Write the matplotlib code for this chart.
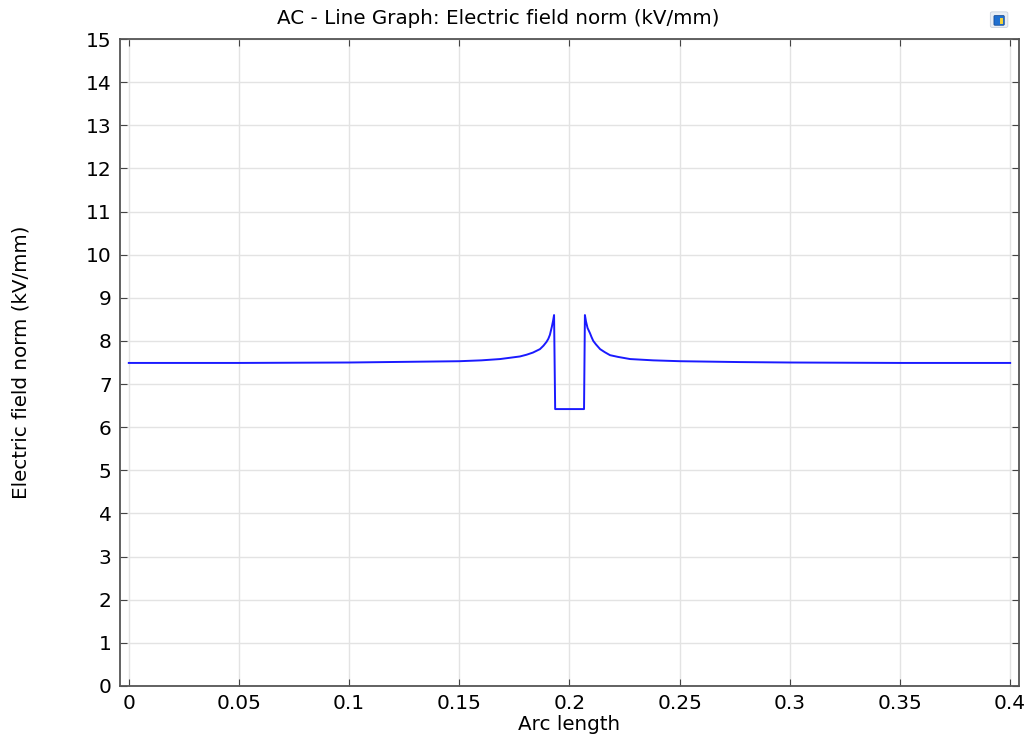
import matplotlib.pyplot as plt
from matplotlib.patches import FancyBboxPatch

# Electric field norm along the arc (kV/mm)
arc_length = [0.000, 0.050, 0.100, 0.150, 0.1600, 0.1685, 0.1730, 0.1775,
              0.1805, 0.1834, 0.1850, 0.1866, 0.1882, 0.1896, 0.1904, 0.1911,
              0.1920, 0.1926, 0.1930, 0.1935, 0.2066, 0.2070, 0.2075, 0.2082,
              0.2093, 0.2100, 0.2108, 0.2120, 0.2139, 0.2160, 0.2184, 0.2220,
              0.2275, 0.2380, 0.2502, 0.2774, 0.300, 0.350, 0.400]
field_norm = [7.49, 7.49, 7.50, 7.53, 7.55, 7.58, 7.61, 7.64,
              7.68, 7.73, 7.77, 7.81, 7.89, 7.98, 8.05, 8.14,
              8.33, 8.48, 8.60, 6.42, 6.42, 8.60, 8.45, 8.30,
              8.18, 8.09, 8.00, 7.92, 7.81, 7.74, 7.67, 7.63,
              7.58, 7.55, 7.53, 7.51, 7.50, 7.49, 7.49]

x_ticks = [0, 0.05, 0.1, 0.15, 0.2, 0.25, 0.3, 0.35, 0.4]
x_tick_labels = ["0", "0.05", "0.1", "0.15", "0.2", "0.25", "0.3", "0.35", "0.4"]
y_ticks = list(range(0, 16))

fig = plt.figure(figsize=(10.3, 7.42), dpi=100)
ax = fig.add_axes([0.1165, 0.0755, 0.8728, 0.8719])

ax.plot(arc_length, field_norm, color="#1a1aff", linewidth=1.4)

ax.set_xlim(-0.004, 0.404)
ax.set_ylim(0, 15)
ax.set_xticks(x_ticks)
ax.set_xticklabels(x_tick_labels)
ax.set_yticks(y_ticks)

ax.grid(True, color="#e3e3e3", linewidth=1.0)
ax.set_axisbelow(True)
ax.tick_params(direction="in", top=True, right=True, length=5,
               labelsize=14.5, color="#444444", pad=6)
for spine in ax.spines.values():
    spine.set_color("#555555")
    spine.set_linewidth(1.3)

ax.set_xlabel("Arc length", fontsize=14.3, labelpad=1)
ax.set_ylabel("Electric field norm (kV/mm)", fontsize=14.3)
ax.yaxis.set_label_coords(-0.100, 0.5)
fig.text(0.4835, 0.9757, "AC - Line Graph: Electric field norm (kV/mm)",
         fontsize=14.3, ha="center", va="center")

# small toolbar-style icon in the top right corner
icon_bg = FancyBboxPatch((0.9635, 0.965), 0.013, 0.017, boxstyle="round,pad=0.002",
                         transform=fig.transFigure, facecolor="#e8eef5",
                         edgecolor="#c8d0dc", linewidth=0.6)
icon_fg = FancyBboxPatch((0.966, 0.967), 0.008, 0.011, boxstyle="round,pad=0.001",
                         transform=fig.transFigure, facecolor="#1f6fd0",
                         edgecolor="#0b3f8a", linewidth=0.5)
icon_hi = FancyBboxPatch((0.9705, 0.968), 0.003, 0.008, boxstyle="square,pad=0",
                         transform=fig.transFigure, facecolor="#f2d23a",
                         edgecolor="none")
fig.patches.extend([icon_bg, icon_fg, icon_hi])

fig.savefig("out.png", dpi=100)
